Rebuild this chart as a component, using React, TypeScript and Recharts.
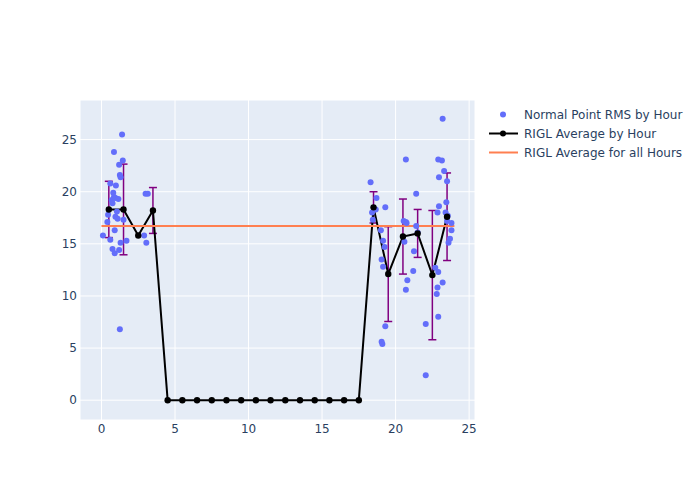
import { ComposedChart, Scatter, Line, ErrorBar, XAxis, YAxis, CartesianGrid } from 'recharts';

// individual normal points (hour of day, RMS)
const pointHour = [
  0.1, 0.4, 0.45, 0.6, 0.6, 0.75, 0.8, 0.85, 0.85, 0.9, 0.9, 0.95, 0.98, 0.7, 0.75, 0.95,
  1.1, 1.2, 1.25, 1.25, 1.3, 1.3, 1.4, 1.45, 1.2, 1.5, 1.7, 1.05, 1.15,
  2.9,
  3.0, 3.15, 3.05,
  18.3, 18.7, 18.65, 18.45, 18.4,
  19.0, 19.15, 19.25, 19.05, 19.15, 19.3, 19.05, 19.1, 19.3,
  20.7, 20.55, 20.7, 20.6, 20.8, 20.7, 20.75,
  21.4, 21.25, 21.2, 21.4, 21.5,
  22.05, 22.05, 22.7, 22.9, 22.85, 22.8, 22.9, 22.9, 22.95, 22.85, 22.95,
  23.2, 23.15, 23.3, 23.5, 23.45, 23.4, 23.55, 23.5, 23.8, 23.8, 23.7, 23.6, 23.2,
];
const pointRms = [
  15.8, 17.1, 17.8, 15.4, 20.8, 14.5, 19.9, 19.5, 23.8, 14.1, 16.3, 17.6, 20.6, 19.2, 18.9, 19.4,
  17.4, 22.6, 21.6, 6.8, 15.1, 21.4, 25.5, 23.0, 14.4, 17.3, 15.3, 18.1, 19.3,
  15.8,
  19.8, 19.8, 15.1,
  20.9, 19.4, 18.3, 17.3, 18.0,
  16.3, 15.3, 14.7, 13.5, 12.8, 7.1, 5.6, 5.4, 18.5,
  23.1, 17.2, 17.1, 15.2, 11.5, 10.6, 17.0,
  19.8, 14.3, 12.4, 16.7, 16.1,
  7.3, 2.4, 12.7, 12.3, 10.8, 10.2, 8.0, 23.1, 18.6, 18.0, 21.4,
  27.0, 23.0, 22.0, 21.0, 19.0, 18.0, 17.7, 17.2, 17.0, 16.3, 15.5, 15.1, 11.3,
];

// hourly averages with standard deviation
const avgHour = [
  0.5, 1.5, 2.5, 3.5, 4.5, 5.5, 6.5, 7.5, 8.5, 9.5, 10.5, 11.5,
  12.5, 13.5, 14.5, 15.5, 16.5, 17.5, 18.5, 19.5, 20.5, 21.5, 22.5, 23.5,
];
const avgRms = [
  18.3, 18.3, 15.8, 18.2, 0, 0, 0, 0, 0, 0, 0, 0,
  0, 0, 0, 0, 0, 0, 18.5, 12.1, 15.7, 16.0, 12.0, 17.6,
];
const avgStd = [
  2.7, 4.35, 0, 2.2, 0, 0, 0, 0, 0, 0, 0, 0,
  0, 0, 0, 0, 0, 0, 1.5, 4.55, 3.6, 2.3, 6.2, 4.2,
];

const overallHours = [0, 24];
const overallAvg = 16.7;

const xTicks = [0, 5, 10, 15, 20, 25];
const yTicks = [0, 5, 10, 15, 20, 25];

const legendLabels = ['Normal Point RMS by Hour', 'RIGL Average by Hour', 'RIGL Average for all Hours'];

const pointData = pointHour.map((h, i) => ({ hour: h, rms: pointRms[i] }));
const avgData = avgHour.map((h, i) => ({ hour: h, avg: avgRms[i], std: avgStd[i] }));
const overallData = overallHours.map((h) => ({ hour: h, avg: overallAvg }));

const FONT = '"DejaVu Sans", verdana, arial, sans-serif';
const TEXT = '#2a3f5f';
const BLUE = '#636efa';
const ORANGE = '#ff7f50';

const Dot = (p: any) => <circle cx={p.cx} cy={p.cy} r={3} fill={BLUE} />;

const LegendIcon = ({ i }: { i: number }) => (
  <svg width={35} height={19} style={{ display: 'block' }}>
    {i === 0 && <circle cx={14} cy={9.5} r={3} fill={BLUE} />}
    {i === 1 && (
      <g>
        <line x1={0} y1={9.5} x2={29} y2={9.5} stroke="#000" strokeWidth={2} />
        <circle cx={14} cy={9.5} r={3} fill="#000" />
      </g>
    )}
    {i === 2 && <line x1={0} y1={9.5} x2={29} y2={9.5} stroke={ORANGE} strokeWidth={2} />}
  </svg>
);

export default function App() {
  return (
    <div style={{ position: 'absolute', left: 0, top: 0, width: 700, height: 500, background: '#fff', fontFamily: FONT }}>
      <ComposedChart width={700} height={500} margin={{ top: 100, right: 225, bottom: 50, left: 40 }}>
        <CartesianGrid fill="#E5ECF6" stroke="#fff" strokeWidth={1} />
        <XAxis
          type="number"
          dataKey="hour"
          domain={[-1.46, 25.4]}
          ticks={xTicks}
          allowDataOverflow
          axisLine={false}
          tickLine={false}
          tickSize={0}
          tickMargin={4}
          height={30}
          tick={{ fill: TEXT, fontSize: 12, fontFamily: FONT }}
        />
        <YAxis
          type="number"
          domain={[-1.9, 28.8]}
          ticks={yTicks}
          allowDataOverflow
          axisLine={false}
          tickLine={false}
          tickSize={0}
          tickMargin={3}
          width={40}
          tick={{ fill: TEXT, fontSize: 12, fontFamily: FONT }}
        />
        <Scatter data={pointData} dataKey="rms" shape={Dot} isAnimationActive={false} />
        <Line
          data={avgData}
          dataKey="avg"
          type="linear"
          stroke="#000"
          strokeWidth={2}
          dot={{ r: 3.2, fill: '#000', stroke: '#000', strokeWidth: 0 }}
          isAnimationActive={false}
        >
          <ErrorBar dataKey="std" direction="y" width={4} stroke="#800080" strokeWidth={1.5} />
        </Line>
        <Line data={overallData} dataKey="avg" type="linear" stroke={ORANGE} strokeWidth={2} dot={false} isAnimationActive={false} />
      </ComposedChart>
      <div style={{ position: 'absolute', left: 489, top: 105, fontSize: 12, color: TEXT }}>
        {legendLabels.map((label, i) => (
          <div key={label} style={{ display: 'flex', alignItems: 'center', height: 19 }}>
            <LegendIcon i={i} />
            <span style={{ whiteSpace: 'nowrap' }}>{label}</span>
          </div>
        ))}
      </div>
    </div>
  );
}
